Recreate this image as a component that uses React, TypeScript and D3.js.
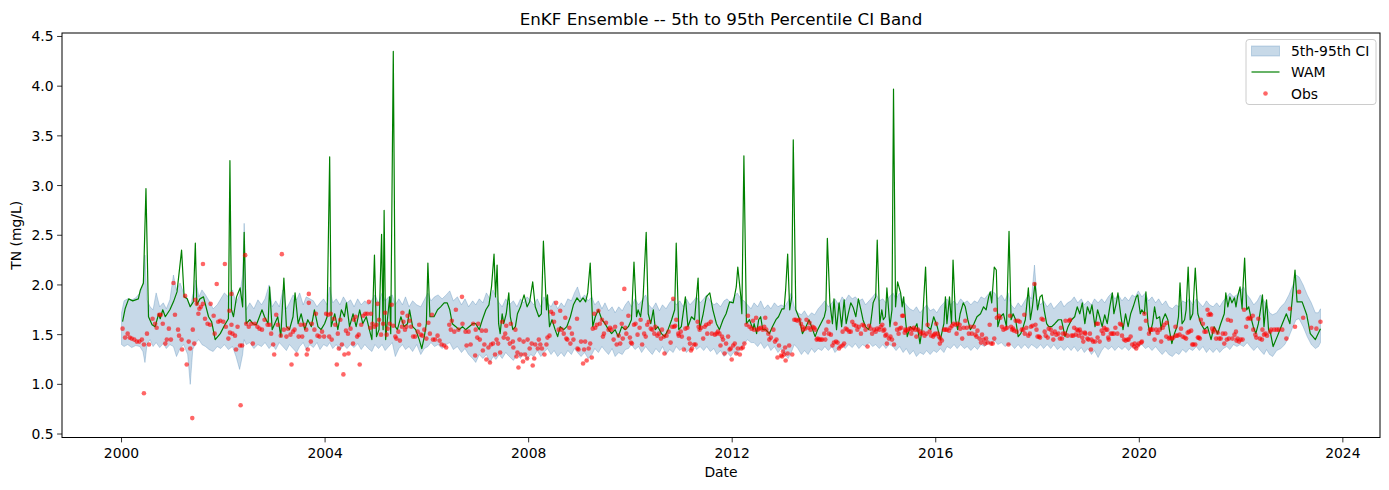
import React from "react";
import * as d3 from "d3";

const W = 1389;
const H = 490;

const titleText = "EnKF Ensemble -- 5th to 95th Percentile CI Band";
const xLabel = "Date";
const yLabel = "TN (mg/L)";
const legendLabels = ["5th-95th CI", "WAM", "Obs"];
const xTicks = [2000, 2004, 2008, 2012, 2016, 2020, 2024];
const yTicks = [0.5, 1.0, 1.5, 2.0, 2.5, 3.0, 3.5, 4.0, 4.5];

// [decimal year, WAM value]
const wamSeries: [number, number][] = [
  [2000.02,1.63],[2000.07,1.76],[2000.14,1.86],[2000.22,1.84],[2000.33,1.86],[2000.37,1.95],[2000.43,2.02],[2000.48,2.97],[2000.53,1.68],[2000.60,1.60],[2000.66,1.58],[2000.73,1.71],[2000.76,1.66],[2000.81,1.75],[2000.86,1.68],[2000.95,1.75],[2001.02,1.83],[2001.09,1.93],[2001.18,2.35],[2001.23,1.88],[2001.29,1.86],[2001.35,1.78],[2001.41,1.83],[2001.45,2.42],[2001.48,1.80],[2001.54,1.86],[2001.61,1.88],[2001.71,1.68],[2001.77,1.63],[2001.84,1.45],[2001.94,1.51],[2002.03,1.60],[2002.10,1.66],[2002.13,3.25],[2002.16,1.75],[2002.20,1.68],[2002.26,1.88],[2002.33,1.97],[2002.38,1.78],[2002.41,2.53],
  [2002.45,1.61],[2002.52,1.65],[2002.58,1.61],[2002.65,1.60],[2002.71,1.68],[2002.76,1.75],[2002.81,1.68],[2002.88,1.61],[2002.91,1.98],[2002.96,1.55],[2003.01,1.61],[2003.07,1.68],[2003.13,1.48],[2003.19,2.07],[2003.24,1.58],[2003.30,1.55],[2003.37,1.68],[2003.41,1.92],[2003.47,1.61],[2003.53,1.71],[2003.60,1.55],[2003.66,1.65],[2003.73,1.58],[2003.79,1.75],[2003.86,1.58],[2003.92,1.55],[2003.99,1.61],[2004.04,1.68],[2004.09,3.29],[2004.12,1.58],[2004.19,1.71],[2004.25,1.55],[2004.32,1.75],[2004.38,1.68],[2004.42,1.82],[2004.48,1.58],[2004.55,1.71],[2004.61,1.58],[2004.68,1.75],[2004.74,1.61],[2004.81,1.68],[2004.87,1.55],
  [2004.92,1.45],[2004.97,2.30],[2005.01,1.48],[2005.06,1.55],[2005.11,2.51],[2005.14,1.55],[2005.16,2.75],[2005.19,1.45],[2005.23,1.68],[2005.27,1.88],[2005.29,1.51],[2005.34,4.35],[2005.38,1.58],[2005.42,1.55],[2005.49,1.68],[2005.55,1.58],[2005.62,1.61],[2005.66,1.75],[2005.72,1.58],[2005.78,1.55],[2005.85,1.45],[2005.90,1.36],[2005.95,1.48],[2005.99,1.61],[2006.02,2.22],[2006.06,1.68],[2006.14,1.68],[2006.21,1.75],[2006.27,1.78],[2006.34,1.82],[2006.40,1.82],[2006.45,1.75],[2006.50,1.61],[2006.57,1.58],[2006.63,1.55],[2006.70,1.58],[2006.76,1.55],[2006.83,1.58],[2006.90,1.61],[2006.96,1.61],[2007.03,1.55],[2007.09,1.65],[2007.16,1.75],[2007.22,1.80],[2007.27,1.98],[2007.32,2.31],[2007.35,1.88],[2007.38,2.20],
  [2007.41,1.61],[2007.44,1.51],[2007.48,1.71],[2007.51,1.61],[2007.56,1.71],[2007.61,1.92],[2007.64,1.68],[2007.69,1.55],[2007.74,1.58],[2007.78,1.71],[2007.84,1.78],[2007.91,1.90],[2007.97,1.78],[2008.02,1.83],[2008.08,2.03],[2008.13,1.78],[2008.20,1.68],[2008.25,1.71],[2008.29,2.44],[2008.35,1.75],[2008.37,1.90],[2008.41,1.58],[2008.46,1.65],[2008.52,1.55],[2008.57,1.48],[2008.62,1.58],[2008.69,1.55],[2008.75,1.58],[2008.82,1.68],[2008.88,1.80],[2008.95,1.87],[2009.01,1.83],[2009.07,1.87],[2009.12,1.83],[2009.16,1.92],[2009.21,2.22],[2009.26,1.58],[2009.31,1.68],[2009.37,1.75],[2009.44,1.65],[2009.50,1.61],[2009.57,1.55],[2009.63,1.51],[2009.70,1.55],[2009.76,1.48],[2009.83,1.58],[2009.90,1.55],
  [2009.96,1.58],[2010.02,1.65],[2010.07,2.23],[2010.12,1.68],[2010.15,1.75],[2010.20,1.68],[2010.25,1.88],[2010.31,2.53],[2010.35,1.71],[2010.40,1.61],[2010.45,1.75],[2010.49,1.55],[2010.54,1.58],[2010.61,1.51],[2010.67,1.48],[2010.74,1.55],[2010.81,1.65],[2010.87,1.75],[2010.90,2.42],[2010.95,1.55],[2011.00,1.58],[2011.08,1.88],[2011.13,1.58],[2011.20,1.68],[2011.26,1.65],[2011.33,2.07],[2011.36,1.55],[2011.43,1.71],[2011.49,1.88],[2011.56,1.92],[2011.62,1.75],[2011.69,1.61],[2011.75,1.55],[2011.82,1.65],[2011.88,1.71],[2011.95,1.83],[2012.02,1.82],[2012.08,1.98],[2012.11,2.18],[2012.17,1.88],[2012.19,1.71],[2012.23,3.30],[2012.28,1.61],[2012.34,1.65],[2012.41,1.55],
  [2012.43,1.61],[2012.48,1.51],[2012.52,1.65],[2012.56,1.68],[2012.60,1.55],[2012.66,1.55],[2012.73,1.51],[2012.79,1.58],[2012.86,1.65],[2012.91,1.68],[2012.98,1.76],[2013.02,1.76],[2013.05,1.95],[2013.09,2.31],[2013.13,1.75],[2013.17,1.88],[2013.20,3.46],[2013.25,1.75],[2013.32,1.66],[2013.38,1.51],[2013.45,1.58],[2013.51,1.65],[2013.58,1.55],[2013.63,1.48],[2013.68,1.55],[2013.74,1.61],[2013.81,1.68],[2013.84,1.75],[2013.87,2.47],[2013.92,1.82],[2013.97,1.61],[2014.00,1.86],[2014.05,1.55],[2014.10,1.82],[2014.15,1.58],[2014.20,1.85],[2014.24,1.61],[2014.28,1.71],[2014.33,1.82],[2014.38,1.77],[2014.43,1.68],[2014.48,1.86],[2014.53,1.75],[2014.57,1.65],[2014.62,1.58],[2014.68,1.55],[2014.72,1.61],[2014.77,1.82],[2014.82,1.88],[2014.85,2.45],[2014.90,1.61],[2014.94,1.75],
  [2014.97,1.65],[2015.01,1.68],[2015.04,1.97],[2015.10,1.58],[2015.14,1.75],[2015.17,3.97],[2015.21,1.78],[2015.25,2.03],[2015.31,1.92],[2015.34,1.78],[2015.37,1.88],[2015.40,1.68],[2015.44,1.48],[2015.50,1.58],[2015.57,1.55],[2015.63,1.61],[2015.69,1.41],[2015.73,1.55],[2015.80,2.18],[2015.84,1.58],[2015.90,1.55],[2015.96,1.68],[2016.03,1.58],[2016.09,1.45],[2016.16,1.61],[2016.19,1.88],[2016.22,1.61],[2016.27,1.88],[2016.31,1.61],[2016.34,2.25],[2016.39,1.65],[2016.43,1.55],[2016.48,1.71],[2016.54,1.82],[2016.58,1.78],[2016.63,1.65],[2016.68,1.55],[2016.75,1.61],[2016.81,1.68],[2016.88,1.71],[2016.94,1.78],[2016.99,1.75],[2017.04,1.88],[2017.07,1.93],[2017.10,1.82],[2017.15,2.18],[2017.19,2.15],[2017.22,1.58],[2017.27,1.68],[2017.33,1.71],[2017.39,1.58],[2017.44,2.54],
  [2017.48,1.65],[2017.52,1.71],[2017.57,1.65],[2017.62,1.48],[2017.67,1.51],[2017.72,1.58],[2017.76,1.65],[2017.82,1.97],[2017.86,1.65],[2017.90,1.78],[2017.95,2.02],[2018.00,1.75],[2018.05,1.88],[2018.09,1.90],[2018.13,1.75],[2018.18,1.61],[2018.22,1.58],[2018.28,1.58],[2018.34,1.61],[2018.41,1.65],[2018.47,1.65],[2018.54,1.48],[2018.60,1.58],[2018.67,1.65],[2018.73,1.68],[2018.78,1.78],[2018.83,1.71],[2018.88,1.82],[2018.93,1.61],[2018.98,1.78],[2019.03,1.71],[2019.07,1.80],[2019.13,1.58],[2019.18,1.75],[2019.22,1.68],[2019.27,1.58],[2019.32,1.70],[2019.37,1.61],[2019.42,1.78],[2019.47,1.92],[2019.50,1.71],[2019.55,1.82],[2019.58,1.92],[2019.64,1.68],[2019.68,1.55],[2019.73,1.71],[2019.78,1.58],[2019.83,1.71],[2019.88,1.78],[2019.94,1.88],
  [2019.97,1.90],[2020.02,1.71],[2020.05,1.75],[2020.10,1.71],[2020.13,1.93],[2020.17,1.61],[2020.21,1.51],[2020.26,1.61],[2020.30,1.78],[2020.34,1.66],[2020.40,1.68],[2020.43,1.55],[2020.46,1.65],[2020.51,1.71],[2020.56,1.65],[2020.59,1.55],[2020.64,1.41],[2020.69,1.51],[2020.74,1.58],[2020.77,1.68],[2020.80,2.02],[2020.84,1.61],[2020.89,1.65],[2020.92,1.75],[2020.96,2.18],[2021.00,1.65],[2021.05,1.71],[2021.10,2.17],[2021.15,1.71],[2021.21,1.61],[2021.28,1.55],[2021.34,1.58],[2021.41,1.45],[2021.47,1.58],[2021.54,1.51],[2021.60,1.61],[2021.67,1.71],[2021.70,1.92],[2021.74,1.78],[2021.78,1.88],[2021.82,1.82],[2021.87,1.87],[2021.90,1.78],[2021.93,1.88],[2021.98,1.98],[2022.02,1.76],[2022.04,2.00],[2022.07,2.27],[2022.11,1.75],[2022.15,1.78],[2022.19,1.68],[2022.24,1.58],[2022.29,1.51],[2022.34,1.61],[2022.39,1.78],[2022.42,1.90],[2022.45,1.58],
  [2022.50,1.85],[2022.54,1.55],[2022.58,1.51],[2022.63,1.38],[2022.71,1.48],[2022.81,1.61],[2022.89,1.71],[2022.96,1.61],[2023.06,2.15],[2023.10,1.83],[2023.20,1.83],[2023.29,1.70],[2023.36,1.51],[2023.46,1.45],[2023.56,1.56]
];

// [decimal year, 5th percentile, 95th percentile]
const bandSeries: [number, number, number][] = [
  [2000.00,1.40,1.72],[2000.05,1.38,1.84],[2000.12,1.40,1.86],[2000.20,1.37,1.85],[2000.28,1.39,1.87],[2000.36,1.38,1.92],[2000.42,1.33,2.00],[2000.46,1.22,2.30],[2000.50,1.40,1.85],[2000.56,1.45,1.78],[2000.62,1.38,1.75],[2000.68,1.42,1.92],[2000.75,1.37,1.78],[2000.82,1.41,1.82],[2000.88,1.36,1.76],[2000.95,1.40,1.85],[2001.02,1.38,2.10],[2001.08,1.28,1.95],[2001.15,1.36,2.02],[2001.22,1.40,1.92],[2001.30,1.30,1.86],[2001.35,1.00,1.78],[2001.40,1.35,1.90],[2001.46,1.42,2.05],[2001.52,1.45,1.88],[2001.58,1.40,1.95],[2001.65,1.38,1.90],[2001.72,1.35,1.84],[2001.80,1.33,1.76],[2001.88,1.38,1.80],[2001.95,1.36,1.86],[2002.02,1.40,1.92],[2002.10,1.35,1.88],[2002.18,1.38,1.95],[2002.25,1.28,1.82],[2002.32,1.15,1.90],[2002.38,1.30,2.10],[2002.41,1.45,2.62],
  [2002.45,1.40,1.75],[2002.52,1.42,1.82],[2002.60,1.36,1.76],[2002.68,1.40,1.85],[2002.75,1.38,1.80],[2002.82,1.42,1.86],[2002.90,1.36,2.00],[2002.96,1.40,1.78],[2003.03,1.35,1.84],[2003.10,1.42,1.78],[2003.17,1.38,1.95],[2003.24,1.34,1.76],[2003.30,1.40,1.82],[2003.37,1.36,1.90],[2003.44,1.32,1.85],[2003.50,1.38,1.92],[2003.57,1.42,1.80],[2003.63,1.35,1.88],[2003.70,1.40,1.86],[2003.77,1.37,1.84],[2003.84,1.42,1.78],[2003.90,1.35,1.82],[2003.97,1.40,1.86],[2004.04,1.38,1.80],[2004.09,1.42,1.98],[2004.15,1.36,1.82],[2004.22,1.40,1.86],[2004.29,1.34,1.80],[2004.36,1.40,1.88],[2004.43,1.36,1.82],[2004.50,1.40,1.85],[2004.57,1.37,1.78],[2004.64,1.41,1.86],[2004.71,1.35,1.80],[2004.78,1.40,1.84],[2004.85,1.36,1.80],
  [2004.92,1.33,1.85],[2004.98,1.40,1.90],[2005.05,1.36,1.82],[2005.12,1.40,1.92],[2005.18,1.34,1.84],[2005.25,1.38,1.88],[2005.32,1.42,1.90],[2005.38,1.28,1.80],[2005.45,1.36,1.86],[2005.52,1.40,1.80],[2005.58,1.35,1.88],[2005.65,1.38,1.78],[2005.72,1.33,1.84],[2005.80,1.40,1.80],[2005.88,1.30,1.78],[2005.95,1.36,1.85],[2006.02,1.38,1.92],[2006.08,1.42,1.84],[2006.15,1.38,1.88],[2006.22,1.40,1.90],[2006.30,1.36,1.86],[2006.38,1.40,1.90],[2006.45,1.42,1.94],[2006.52,1.35,1.84],[2006.60,1.38,1.88],[2006.68,1.32,1.80],[2006.75,1.36,1.86],[2006.82,1.30,1.78],[2006.90,1.26,1.84],[2006.96,1.22,1.80],[2007.03,1.30,1.86],[2007.10,1.26,1.82],[2007.17,1.30,1.92],[2007.24,1.22,1.86],[2007.30,1.28,1.95],[2007.36,1.25,1.88],
  [2007.42,1.30,1.82],[2007.48,1.26,1.78],[2007.55,1.32,1.86],[2007.62,1.28,1.80],[2007.70,1.24,1.84],[2007.77,1.30,1.78],[2007.84,1.26,1.86],[2007.90,1.32,1.82],[2007.97,1.25,1.88],[2008.04,1.30,1.84],[2008.10,1.28,1.80],[2008.17,1.34,1.86],[2008.24,1.28,1.78],[2008.30,1.32,1.88],[2008.37,1.36,1.82],[2008.44,1.30,1.78],[2008.50,1.34,1.84],[2008.57,1.28,1.76],[2008.64,1.32,1.82],[2008.70,1.28,1.78],[2008.77,1.34,1.86],[2008.84,1.30,1.84],[2008.90,1.36,1.92],[2008.96,1.32,1.98],[2009.03,1.28,1.86],[2009.10,1.32,1.90],[2009.17,1.26,1.84],[2009.24,1.30,1.88],[2009.30,1.36,1.80],[2009.37,1.32,1.84],[2009.44,1.38,1.76],[2009.50,1.34,1.82],[2009.57,1.30,1.74],[2009.64,1.36,1.78],[2009.70,1.28,1.72],[2009.77,1.32,1.78],[2009.84,1.30,1.74],[2009.90,1.35,1.80],
  [2009.96,1.36,1.84],[2010.02,1.40,1.78],[2010.09,1.35,1.86],[2010.16,1.38,1.80],[2010.22,1.32,1.84],[2010.30,1.38,1.90],[2010.36,1.34,1.80],[2010.43,1.30,1.76],[2010.50,1.36,1.82],[2010.57,1.32,1.74],[2010.63,1.38,1.80],[2010.70,1.30,1.76],[2010.77,1.35,1.82],[2010.84,1.32,1.86],[2010.90,1.38,1.80],[2010.97,1.34,1.84],[2011.04,1.38,1.78],[2011.10,1.32,1.86],[2011.17,1.36,1.80],[2011.24,1.40,1.84],[2011.30,1.35,1.88],[2011.37,1.38,1.82],[2011.44,1.34,1.86],[2011.50,1.38,1.90],[2011.57,1.33,1.84],[2011.64,1.36,1.80],[2011.70,1.30,1.82],[2011.77,1.34,1.78],[2011.84,1.28,1.84],[2011.90,1.32,1.86],[2011.97,1.28,1.82],[2012.04,1.33,1.88],[2012.10,1.30,1.92],[2012.17,1.36,1.86],[2012.23,1.40,1.84],[2012.30,1.45,1.80],[2012.37,1.42,1.76],
  [2012.43,1.42,1.82],[2012.50,1.38,1.78],[2012.56,1.42,1.84],[2012.63,1.36,1.76],[2012.70,1.40,1.80],[2012.76,1.34,1.76],[2012.83,1.38,1.82],[2012.90,1.32,1.78],[2012.96,1.36,1.80],[2013.03,1.30,1.78],[2013.10,1.26,1.84],[2013.16,1.32,1.92],[2013.22,1.40,1.78],[2013.29,1.36,1.72],[2013.36,1.30,1.70],[2013.42,1.34,1.74],[2013.49,1.30,1.68],[2013.56,1.36,1.72],[2013.62,1.32,1.70],[2013.69,1.36,1.76],[2013.76,1.34,1.80],[2013.82,1.38,1.84],[2013.89,1.34,1.78],[2013.96,1.38,1.82],[2014.02,1.32,1.86],[2014.09,1.36,1.80],[2014.16,1.40,1.88],[2014.22,1.36,1.84],[2014.29,1.40,1.90],[2014.36,1.37,1.86],[2014.42,1.41,1.88],[2014.49,1.36,1.84],[2014.56,1.40,1.86],[2014.62,1.38,1.80],[2014.69,1.42,1.84],[2014.76,1.38,1.88],[2014.82,1.40,1.92],[2014.89,1.36,1.84],
  [2014.96,1.40,1.86],[2015.02,1.36,1.82],[2015.09,1.40,1.88],[2015.16,1.38,1.92],[2015.22,1.34,1.86],[2015.29,1.38,1.92],[2015.36,1.32,1.84],[2015.42,1.36,1.80],[2015.49,1.30,1.76],[2015.56,1.34,1.74],[2015.62,1.28,1.78],[2015.69,1.32,1.72],[2015.76,1.30,1.76],[2015.82,1.34,1.80],[2015.89,1.30,1.74],[2015.96,1.34,1.76],[2016.02,1.32,1.72],[2016.09,1.36,1.78],[2016.16,1.32,1.82],[2016.22,1.38,1.86],[2016.29,1.36,1.80],[2016.36,1.40,1.84],[2016.42,1.36,1.80],[2016.49,1.40,1.86],[2016.56,1.36,1.82],[2016.62,1.38,1.84],[2016.69,1.34,1.80],[2016.76,1.38,1.84],[2016.82,1.35,1.82],[2016.89,1.40,1.88],[2016.96,1.38,1.86],[2017.02,1.42,1.90],[2017.09,1.40,1.94],[2017.16,1.44,1.92],[2017.22,1.40,1.86],[2017.29,1.42,1.90],[2017.36,1.38,1.84],[2017.42,1.40,1.92],
  [2017.48,1.40,1.80],[2017.55,1.36,1.76],[2017.62,1.40,1.82],[2017.68,1.36,1.78],[2017.75,1.40,1.84],[2017.82,1.36,1.90],[2017.88,1.40,1.86],[2017.94,1.38,2.20],[2017.99,1.36,1.86],[2018.06,1.40,1.80],[2018.12,1.36,1.84],[2018.19,1.40,1.78],[2018.26,1.36,1.82],[2018.32,1.40,1.76],[2018.39,1.35,1.80],[2018.46,1.38,1.84],[2018.52,1.34,1.78],[2018.59,1.38,1.82],[2018.66,1.34,1.84],[2018.72,1.38,1.88],[2018.79,1.33,1.82],[2018.86,1.37,1.86],[2018.92,1.32,1.80],[2018.99,1.36,1.84],[2019.06,1.30,1.80],[2019.12,1.34,1.86],[2019.19,1.27,1.82],[2019.26,1.34,1.86],[2019.32,1.38,1.82],[2019.39,1.35,1.88],[2019.46,1.38,1.92],[2019.52,1.34,1.86],[2019.59,1.38,1.90],[2019.66,1.35,1.84],[2019.72,1.38,1.88],[2019.79,1.34,1.84],[2019.86,1.38,1.90],[2019.92,1.35,1.88],
  [2019.98,1.38,1.94],[2020.05,1.40,1.88],[2020.12,1.36,1.92],[2020.18,1.38,1.84],[2020.25,1.34,1.88],[2020.32,1.38,1.82],[2020.38,1.34,1.86],[2020.45,1.30,1.80],[2020.52,1.34,1.84],[2020.58,1.30,1.78],[2020.65,1.28,1.76],[2020.72,1.32,1.80],[2020.78,1.30,1.78],[2020.85,1.35,1.84],[2020.92,1.32,1.82],[2020.98,1.36,1.86],[2021.05,1.34,1.80],[2021.12,1.38,1.86],[2021.18,1.34,1.82],[2021.25,1.38,1.78],[2021.32,1.32,1.84],[2021.38,1.36,1.80],[2021.45,1.32,1.78],[2021.52,1.36,1.82],[2021.58,1.32,1.78],[2021.65,1.36,1.84],[2021.72,1.38,1.88],[2021.78,1.35,1.92],[2021.85,1.40,1.88],[2021.92,1.38,1.90],[2021.98,1.40,1.94],[2022.05,1.38,1.98],[2022.12,1.42,1.90],[2022.18,1.38,1.86],[2022.25,1.34,1.80],[2022.32,1.38,1.84],[2022.38,1.34,1.90],[2022.45,1.30,1.84],
  [2022.50,1.35,1.80],[2022.56,1.30,1.72],[2022.62,1.28,1.70],[2022.70,1.34,1.72],[2022.78,1.36,1.78],[2022.86,1.40,1.82],[2022.94,1.48,1.90],[2023.02,1.58,2.00],[2023.08,1.65,2.10],[2023.14,1.66,2.08],[2023.22,1.58,2.00],[2023.30,1.48,1.90],[2023.38,1.40,1.82],[2023.46,1.36,1.72],[2023.52,1.38,1.72],[2023.56,1.42,1.76]
];

// [decimal year, observed TN]
const obsSeries: [number, number][] = [
  [2000.02,1.56],[2000.07,1.47],[2000.12,1.51],[2000.16,1.47],[2000.20,1.46],[2000.25,1.45],[2000.30,1.43],[2000.35,1.43],[2000.40,1.45],[2000.44,1.40],[2000.44,0.91],[2000.50,1.51],[2000.54,1.40],[2000.61,1.66],[2000.66,1.61],[2000.69,1.57],[2000.74,1.70],[2000.77,1.70],[2000.81,1.61],[2000.86,1.41],[2000.89,1.45],[2000.93,1.56],[2000.97,1.45],[2001.02,2.02],[2001.05,1.70],[2001.11,1.55],[2001.13,1.49],[2001.18,1.45],[2001.19,1.35],[2001.25,1.89],[2001.28,1.20],[2001.32,1.43],[2001.35,1.36],[2001.39,0.66],[2001.40,1.55],[2001.43,1.41],[2001.45,1.85],[2001.48,1.81],[2001.51,1.71],[2001.53,1.76],[2001.56,1.78],[2001.60,2.21],[2001.60,1.81],[2001.64,1.66],[2001.69,1.61],[2001.74,1.60],[2001.75,1.81],[2001.81,1.69],[2001.83,1.51],[2001.87,2.01],[2001.90,1.63],[2001.94,1.64],[2002.00,1.63],[2002.03,2.21],[2002.05,1.58],[2002.10,1.46],[2002.12,1.74],[2002.13,1.52],[2002.16,1.60],[2002.16,1.91],[2002.18,1.51],[2002.23,1.49],[2002.25,1.35],[2002.28,1.58],[2002.33,1.39],[2002.34,0.79],[2002.37,1.39],
  [2002.43,2.30],[2002.45,1.61],[2002.50,1.58],[2002.55,1.61],[2002.58,1.41],[2002.62,1.61],[2002.67,1.58],[2002.71,1.56],[2002.76,1.55],[2002.81,1.65],[2002.87,1.60],[2002.91,1.60],[2002.94,1.51],[2002.98,1.40],[2003.00,1.30],[2003.04,1.70],[2003.07,1.60],[2003.13,1.49],[2003.15,2.31],[2003.19,1.55],[2003.24,1.48],[2003.27,1.56],[2003.32,1.50],[2003.34,1.20],[2003.37,1.53],[2003.40,1.55],[2003.44,1.30],[2003.48,1.48],[2003.52,1.60],[2003.55,1.48],[2003.59,1.60],[2003.63,1.55],[2003.64,1.30],[2003.66,1.35],[2003.68,1.91],[2003.68,1.82],[2003.72,1.43],[2003.74,1.61],[2003.79,1.55],[2003.82,1.71],[2003.85,1.49],[2003.89,1.48],[2003.94,1.53],[2003.98,1.48],[2004.02,1.71],[2004.06,1.70],[2004.08,1.48],[2004.11,1.71],[2004.13,1.45],[2004.17,1.66],[2004.20,1.60],[2004.23,1.20],[2004.25,1.51],[2004.27,1.36],[2004.30,1.65],[2004.33,1.40],[2004.36,1.10],[2004.38,1.30],[2004.41,1.54],[2004.45,1.51],[2004.46,1.31],[2004.50,1.56],[2004.55,1.41],[2004.57,1.65],[2004.60,1.68],[2004.63,1.48],[2004.66,1.50],[2004.68,1.20],[2004.71,1.60],[2004.75,1.69],[2004.79,1.71],[2004.83,1.71],[2004.86,1.83],[2004.89,1.57],
  [2004.90,1.71],[2004.93,1.61],[2004.97,1.58],[2005.01,1.60],[2005.03,1.81],[2005.06,1.65],[2005.10,1.50],[2005.14,1.61],[2005.18,1.72],[2005.21,1.50],[2005.23,1.56],[2005.27,1.61],[2005.31,1.80],[2005.34,1.59],[2005.38,1.48],[2005.40,1.46],[2005.44,1.53],[2005.47,1.44],[2005.51,1.58],[2005.52,1.72],[2005.54,1.63],[2005.57,1.55],[2005.60,1.58],[2005.62,1.69],[2005.66,1.64],[2005.69,1.58],[2005.73,1.48],[2005.77,1.48],[2005.82,1.53],[2005.85,1.60],[2005.88,1.50],[2005.91,1.49],[2005.95,1.55],[2005.99,1.46],[2006.03,1.62],[2006.06,1.51],[2006.10,1.70],[2006.12,1.45],[2006.16,1.45],[2006.21,1.49],[2006.25,1.44],[2006.29,1.40],[2006.34,1.39],[2006.38,1.37],[2006.44,1.60],[2006.47,1.55],[2006.49,1.64],[2006.54,1.53],[2006.57,1.75],[2006.62,1.55],[2006.69,1.88],[2006.70,1.61],[2006.76,1.53],[2006.78,1.39],[2006.82,1.53],[2006.86,1.40],[2006.91,1.61],[2006.95,1.29],[2006.96,1.55],[2006.99,1.47],[2007.01,1.61],[2007.04,1.45],[2007.08,1.54],[2007.10,1.34],[2007.13,1.40],[2007.16,1.54],[2007.17,1.25],[2007.21,1.37],[2007.24,1.22],[2007.26,1.40],[2007.30,1.41],[2007.34,1.30],[2007.37,1.45],
  [2007.40,1.41],[2007.44,1.32],[2007.48,1.63],[2007.51,1.47],[2007.54,1.51],[2007.56,1.59],[2007.59,1.46],[2007.63,1.41],[2007.65,1.61],[2007.69,1.43],[2007.70,1.37],[2007.74,1.55],[2007.76,1.28],[2007.78,1.32],[2007.80,1.17],[2007.82,1.45],[2007.85,1.30],[2007.89,1.23],[2007.90,1.43],[2007.93,1.30],[2007.97,1.26],[2007.98,1.45],[2008.02,1.36],[2008.06,1.41],[2008.08,1.19],[2008.11,1.26],[2008.13,1.40],[2008.18,1.36],[2008.20,1.45],[2008.23,1.40],[2008.26,1.36],[2008.31,1.30],[2008.35,1.40],[2008.37,1.47],[2008.41,1.49],[2008.44,1.73],[2008.48,1.71],[2008.50,1.63],[2008.54,1.82],[2008.59,1.55],[2008.62,1.74],[2008.65,1.55],[2008.69,1.51],[2008.72,1.67],[2008.74,1.46],[2008.76,1.45],[2008.80,1.57],[2008.82,1.41],[2008.85,1.51],[2008.88,1.45],[2008.95,1.66],[2008.96,1.36],[2008.98,1.35],[2009.03,1.43],[2009.07,1.21],[2009.09,1.35],[2009.11,1.43],[2009.14,1.24],[2009.18,1.36],[2009.21,1.41],[2009.24,1.27],[2009.26,1.56],[2009.29,1.71],[2009.31,1.57],[2009.34,1.60],[2009.37,1.74],[2009.40,1.61],[2009.44,1.65],[2009.46,1.48],[2009.48,1.51],[2009.52,1.62],[2009.57,1.55],[2009.60,1.57],[2009.63,1.55],[2009.67,1.45],[2009.70,1.58],[2009.73,1.40],[2009.77,1.49],[2009.80,1.41],[2009.83,1.61],[2009.85,1.46],[2009.88,1.96],[2009.90,1.57],
  [2009.92,1.51],[2009.96,1.69],[2009.99,1.47],[2010.01,1.42],[2010.03,1.41],[2010.07,1.60],[2010.10,1.61],[2010.14,1.50],[2010.18,1.57],[2010.20,1.65],[2010.23,1.40],[2010.27,1.51],[2010.30,1.48],[2010.33,1.60],[2010.36,1.63],[2010.40,1.56],[2010.43,1.55],[2010.47,1.51],[2010.49,1.58],[2010.53,1.49],[2010.56,1.51],[2010.60,1.46],[2010.62,1.55],[2010.66,1.48],[2010.67,1.31],[2010.71,1.49],[2010.75,1.53],[2010.79,1.42],[2010.82,1.58],[2010.84,1.86],[2010.86,1.58],[2010.88,1.59],[2010.90,1.65],[2010.94,1.51],[2010.95,1.49],[2010.99,1.53],[2011.01,1.48],[2011.05,1.35],[2011.08,1.56],[2011.12,1.57],[2011.15,1.46],[2011.17,1.41],[2011.19,1.34],[2011.21,1.36],[2011.25,1.40],[2011.28,1.40],[2011.32,1.63],[2011.34,1.58],[2011.36,1.55],[2011.39,1.57],[2011.43,1.46],[2011.46,1.58],[2011.49,1.60],[2011.51,1.51],[2011.54,1.61],[2011.58,1.63],[2011.60,1.51],[2011.66,1.50],[2011.69,1.51],[2011.72,1.53],[2011.75,1.51],[2011.77,1.39],[2011.80,1.48],[2011.82,1.45],[2011.85,1.31],[2011.88,1.41],[2011.92,1.48],[2011.95,1.35],[2011.97,1.36],[2011.99,1.25],[2012.02,1.39],[2012.05,1.41],[2012.08,1.31],[2012.11,1.36],[2012.15,1.30],[2012.18,1.36],[2012.21,1.37],[2012.24,1.41],[2012.28,1.60],[2012.31,1.69],[2012.34,1.58],[2012.38,1.56],[2012.41,1.64],
  [2012.43,1.55],[2012.47,1.67],[2012.50,1.55],[2012.53,1.56],[2012.56,1.57],[2012.60,1.55],[2012.63,1.58],[2012.65,1.67],[2012.67,1.55],[2012.71,1.51],[2012.73,1.45],[2012.76,1.47],[2012.81,1.55],[2012.84,1.43],[2012.87,1.45],[2012.89,1.27],[2012.92,1.39],[2012.96,1.29],[2012.98,1.28],[2013.00,1.33],[2013.02,1.30],[2013.04,1.37],[2013.05,1.24],[2013.09,1.31],[2013.12,1.39],[2013.18,1.30],[2013.22,1.65],[2013.25,1.65],[2013.28,1.64],[2013.32,1.65],[2013.35,1.61],[2013.38,1.58],[2013.39,1.55],[2013.43,1.56],[2013.46,1.65],[2013.50,1.57],[2013.52,1.62],[2013.54,1.55],[2013.58,1.58],[2013.61,1.57],[2013.63,1.55],[2013.66,1.45],[2013.68,1.46],[2013.71,1.45],[2013.74,1.45],[2013.77,1.45],[2013.81,1.51],[2013.83,1.45],[2013.85,1.55],[2013.89,1.63],[2013.90,1.51],[2013.94,1.50],[2013.97,1.39],[2014.00,1.42],[2014.04,1.43],[2014.07,1.42],[2014.10,1.36],[2014.13,1.38],[2014.17,1.39],[2014.17,1.53],[2014.20,1.41],[2014.23,1.56],[2014.26,1.55],[2014.30,1.53],[2014.33,1.53],[2014.36,1.63],[2014.39,1.60],[2014.43,1.59],[2014.46,1.55],[2014.49,1.58],[2014.53,1.51],[2014.56,1.60],[2014.59,1.59],[2014.62,1.55],[2014.66,1.38],[2014.69,1.59],[2014.72,1.56],[2014.75,1.51],[2014.79,1.55],[2014.82,1.53],[2014.85,1.56],[2014.89,1.55],[2014.92,1.58],
  [2014.95,1.60],[2014.97,1.54],[2014.99,1.55],[2015.01,1.49],[2015.03,1.50],[2015.04,1.41],[2015.08,1.46],[2015.11,1.48],[2015.14,1.45],[2015.18,1.40],[2015.21,1.61],[2015.24,1.55],[2015.27,1.51],[2015.29,1.56],[2015.32,1.57],[2015.34,1.69],[2015.36,1.69],[2015.39,1.52],[2015.40,1.55],[2015.42,1.54],[2015.45,1.55],[2015.49,1.56],[2015.52,1.51],[2015.54,1.55],[2015.57,1.57],[2015.60,1.55],[2015.62,1.48],[2015.65,1.55],[2015.69,1.53],[2015.71,1.51],[2015.75,1.52],[2015.78,1.49],[2015.82,1.51],[2015.84,1.60],[2015.88,1.53],[2015.91,1.49],[2015.95,1.48],[2015.97,1.50],[2015.99,1.51],[2016.01,1.61],[2016.04,1.51],[2016.06,1.48],[2016.08,1.41],[2016.09,1.46],[2016.12,1.44],[2016.16,1.55],[2016.19,1.55],[2016.22,1.55],[2016.26,1.54],[2016.29,1.57],[2016.32,1.59],[2016.35,1.61],[2016.39,1.60],[2016.41,1.51],[2016.43,1.61],[2016.47,1.60],[2016.48,1.56],[2016.52,1.46],[2016.55,1.57],[2016.58,1.64],[2016.61,1.57],[2016.65,1.51],[2016.68,1.58],[2016.71,1.51],[2016.75,1.58],[2016.78,1.50],[2016.80,1.48],[2016.82,1.54],[2016.86,1.46],[2016.89,1.42],[2016.91,1.50],[2016.94,1.45],[2016.97,1.41],[2016.99,1.46],[2017.02,1.42],[2017.06,1.60],[2017.09,1.41],[2017.12,1.41],[2017.15,1.46],[2017.17,1.75],[2017.20,1.67],[2017.24,1.69],[2017.27,1.67],[2017.30,1.58],[2017.33,1.55],[2017.37,1.56],[2017.40,1.57],[2017.43,1.40],
  [2017.46,1.69],[2017.48,1.58],[2017.50,1.55],[2017.52,1.56],[2017.54,1.54],[2017.57,1.64],[2017.59,1.53],[2017.62,1.64],[2017.65,1.63],[2017.69,1.55],[2017.72,1.55],[2017.74,1.70],[2017.75,1.51],[2017.78,1.57],[2017.82,1.49],[2017.85,1.51],[2017.87,1.58],[2017.90,1.59],[2017.94,2.01],[2017.96,1.60],[2017.98,1.55],[2018.00,1.48],[2018.03,1.48],[2018.05,1.47],[2018.08,1.66],[2018.11,1.65],[2018.14,1.53],[2018.16,1.49],[2018.20,1.47],[2018.22,1.56],[2018.26,1.55],[2018.29,1.51],[2018.31,1.45],[2018.34,1.53],[2018.37,1.50],[2018.41,1.51],[2018.44,1.46],[2018.46,1.57],[2018.48,1.46],[2018.50,1.51],[2018.54,1.51],[2018.55,1.64],[2018.59,1.49],[2018.62,1.64],[2018.64,1.65],[2018.67,1.49],[2018.70,1.49],[2018.72,1.57],[2018.75,1.50],[2018.77,1.55],[2018.80,1.54],[2018.81,1.49],[2018.83,1.55],[2018.86,1.52],[2018.88,1.47],[2018.90,1.43],[2018.93,1.52],[2018.94,1.51],[2018.98,1.46],[2019.00,1.45],[2019.03,1.51],[2019.05,1.35],[2019.06,1.45],[2019.09,1.43],[2019.13,1.43],[2019.16,1.61],[2019.18,1.47],[2019.19,1.61],[2019.22,1.43],[2019.26,1.54],[2019.29,1.51],[2019.31,1.57],[2019.34,1.55],[2019.37,1.55],[2019.39,1.47],[2019.40,1.45],[2019.44,1.51],[2019.47,1.51],[2019.50,1.51],[2019.53,1.57],[2019.57,1.51],[2019.62,1.61],[2019.65,1.60],[2019.66,1.49],[2019.70,1.45],[2019.73,1.44],[2019.77,1.45],[2019.79,1.45],[2019.83,1.48],[2019.86,1.40],[2019.90,1.38],[2019.91,1.41],[2019.94,1.36],
  [2019.97,1.39],[2019.99,1.41],[2020.02,1.56],[2020.04,1.42],[2020.05,1.43],[2020.10,1.71],[2020.13,1.64],[2020.19,1.51],[2020.21,1.55],[2020.23,1.55],[2020.26,1.55],[2020.30,1.45],[2020.33,1.55],[2020.36,1.52],[2020.40,1.55],[2020.43,1.43],[2020.46,1.57],[2020.49,1.60],[2020.53,1.48],[2020.54,1.62],[2020.58,1.46],[2020.60,1.47],[2020.64,1.46],[2020.67,1.47],[2020.71,1.58],[2020.72,1.49],[2020.75,1.49],[2020.79,1.50],[2020.82,1.56],[2020.85,1.48],[2020.89,1.47],[2020.92,1.46],[2020.95,1.52],[2020.98,1.53],[2021.02,1.54],[2021.04,1.40],[2021.06,1.40],[2021.10,1.40],[2021.15,1.47],[2021.17,1.47],[2021.19,1.46],[2021.21,1.65],[2021.25,1.61],[2021.28,1.53],[2021.31,1.53],[2021.34,1.75],[2021.36,1.70],[2021.39,1.71],[2021.41,1.70],[2021.43,1.56],[2021.45,1.53],[2021.47,1.55],[2021.51,1.46],[2021.54,1.52],[2021.57,1.46],[2021.60,1.46],[2021.64,1.51],[2021.67,1.41],[2021.69,1.51],[2021.72,1.45],[2021.74,1.65],[2021.76,1.46],[2021.80,1.64],[2021.83,1.46],[2021.87,1.50],[2021.90,1.53],[2021.91,1.44],[2021.93,1.46],[2021.96,1.43],[2021.99,1.45],[2022.03,1.45],[2022.06,1.75],[2022.10,1.58],[2022.13,1.66],[2022.16,1.67],[2022.19,1.66],[2022.23,1.69],[2022.24,1.55],[2022.28,1.50],[2022.30,1.47],[2022.34,1.66],[2022.37,1.46],[2022.41,1.45],[2022.42,1.55],[2022.45,1.50],
  [2022.48,1.51],[2022.51,1.49],[2022.57,1.53],[2022.59,1.55],[2022.65,1.55],[2022.70,1.55],[2022.74,1.55],[2022.81,1.55],[2022.89,1.46],[2022.96,1.76],[2023.06,1.58],[2023.14,1.93],[2023.22,1.67],[2023.38,1.57],[2023.48,1.56],[2023.56,1.63]
];

const FONT = "DejaVu Sans, Liberation Sans, sans-serif";

export default function App() {
  const left = 62, right = 1380, top = 33, bottom = 437.5;
  const x = d3.scaleLinear().domain([1998.83, 2024.73]).range([left, right]);
  const y = d3.scaleLinear().domain([0.465, 4.535]).range([bottom, top]);

  const area = d3.area<[number, number, number]>()
    .x((d) => x(d[0]))
    .y0((d) => y(d[1]))
    .y1((d) => y(d[2]));
  const line = d3.line<[number, number]>()
    .x((d) => x(d[0]))
    .y((d) => y(d[1]));

  const fmtY = d3.format(".1f");

  return (
    <svg
      width={W}
      height={H}
      style={{ position: "absolute", left: 0, top: 0, background: "#fff" }}
      fontFamily={FONT}
    >
      <rect x={0} y={0} width={W} height={H} fill="#fff" />
      <defs>
        <clipPath id="plotClip">
          <rect x={left} y={top} width={right - left} height={bottom - top} />
        </clipPath>
      </defs>

      <g clipPath="url(#plotClip)">
        <path
          d={area(bandSeries) || ""}
          fill="steelblue"
          fillOpacity={0.3}
          stroke="steelblue"
          strokeOpacity={0.3}
          strokeWidth={1}
        />
        <path d={line(wamSeries) || ""} fill="none" stroke="green" strokeWidth={1.2} strokeLinejoin="round" />
        {obsSeries.map((d, i) => (
          <circle key={i} cx={x(d[0])} cy={y(d[1])} r={2.3} fill="red" fillOpacity={0.6} />
        ))}
      </g>

      {/* axes frame */}
      <rect x={left} y={top} width={right - left} height={bottom - top} fill="none" stroke="#000" strokeWidth={1} />

      {/* x ticks */}
      {xTicks.map((t) => (
        <g key={t}>
          <line x1={x(t)} x2={x(t)} y1={bottom} y2={bottom + 4.9} stroke="#000" strokeWidth={0.8} />
          <text x={x(t)} y={bottom + 20} textAnchor="middle" fontSize={13.9} fill="#000">
            {t}
          </text>
        </g>
      ))}

      {/* y ticks */}
      {yTicks.map((t) => (
        <g key={t}>
          <line x1={left - 4.9} x2={left} y1={y(t)} y2={y(t)} stroke="#000" strokeWidth={0.8} />
          <text x={left - 8.5} y={y(t) + 5} textAnchor="end" fontSize={13.9} fill="#000">
            {fmtY(t)}
          </text>
        </g>
      ))}

      {/* labels */}
      <text x={(left + right) / 2} y={24.5} textAnchor="middle" fontSize={16.7} fill="#000">
        {titleText}
      </text>
      <text x={(left + right) / 2} y={477} textAnchor="middle" fontSize={13.9} fill="#000">
        {xLabel}
      </text>
      <text
        transform={`translate(21,${(top + bottom) / 2}) rotate(-90)`}
        textAnchor="middle"
        fontSize={13.9}
        fill="#000"
      >
        {yLabel}
      </text>

      {/* legend */}
      <g>
        <rect x={1246} y={39.5} width={130} height={65} rx={3} fill="#fff" fillOpacity={0.8} stroke="#cccccc" strokeWidth={1} />
        <rect x={1251.5} y={46} width={28} height={10} fill="steelblue" fillOpacity={0.3} stroke="steelblue" strokeOpacity={0.3} />
        <text x={1291} y={56} fontSize={13.9} fill="#000">{legendLabels[0]}</text>
        <line x1={1251.5} x2={1279.5} y1={72} y2={72} stroke="green" strokeWidth={1.2} />
        <text x={1291} y={77} fontSize={13.9} fill="#000">{legendLabels[1]}</text>
        <circle cx={1265.5} cy={93.5} r={2.3} fill="red" fillOpacity={0.6} />
        <text x={1291} y={98.5} fontSize={13.9} fill="#000">{legendLabels[2]}</text>
      </g>
    </svg>
  );
}
